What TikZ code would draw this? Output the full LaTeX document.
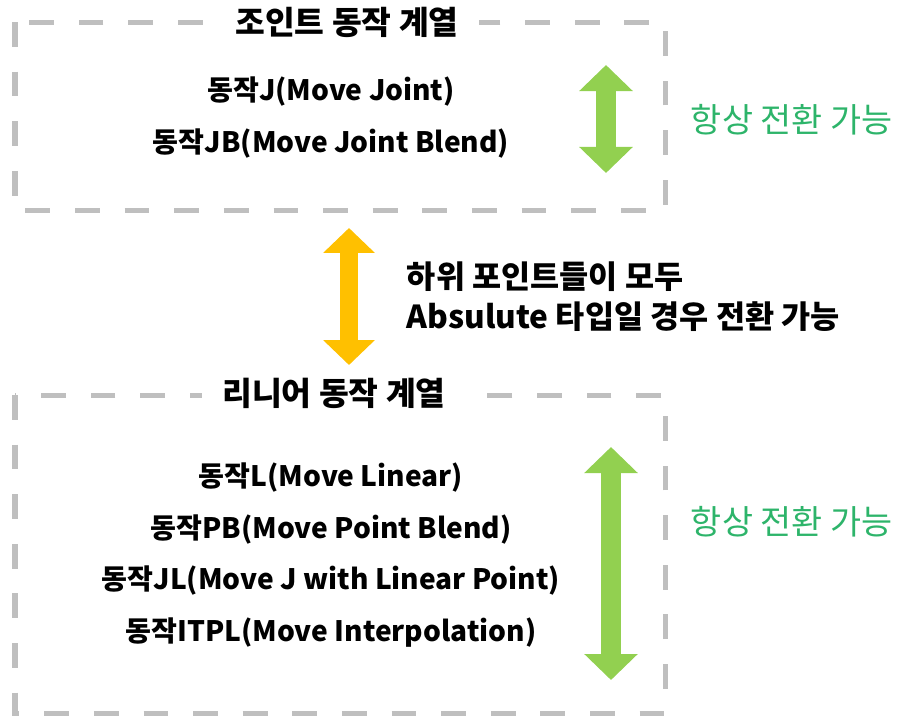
\documentclass[tikz,border=0pt]{standalone}
\usepackage{fontspec}
\setmainfont{Noto Sans CJK KR}
\usepackage{xcolor}
\definecolor{DashGray}{HTML}{BFBFBF}
\definecolor{ArrowGreen}{HTML}{92D050}
\definecolor{ArrowOrange}{HTML}{FFC000}
\definecolor{NoteGreen}{HTML}{2DB46A}
\usetikzlibrary{arrows.meta,positioning}

\begin{document}
\begin{tikzpicture}[
  x=0.025cm, y=-0.025cm,
  groupbox/.style={draw=DashGray,line width=0.125cm,dash pattern=on 0.62cm off 0.62cm},
  grouptitle/.style={fill=white,inner xsep=0.5cm,inner ysep=1pt,font=\fontsize{23}{27}\selectfont\bfseries},
  item/.style={font=\fontsize{20}{24}\selectfont\bfseries},
  note/.style={font=\fontsize{22.5}{28.5}\selectfont\bfseries,align=left,anchor=west},
  greennote/.style={font=\fontsize{24}{28}\selectfont,text=NoteGreen,anchor=west},
  swapgreen/.style={draw=ArrowGreen,line width=0.5cm,{Triangle[width=1.3cm,length=0.65cm]}-{Triangle[width=1.3cm,length=0.65cm]}},
  swaporange/.style={draw=ArrowOrange,line width=0.45cm,{Triangle[width=1.25cm,length=0.62cm]}-{Triangle[width=1.25cm,length=0.62cm]}}
]
  \useasboundingbox (0,0) rectangle (900,717);

  % joint group
  \draw[groupbox] (15,22) rectangle (665,210);
  \node[grouptitle] (jtitle) at (347,22) {조인트 동작 계열};
  \node[item] (movej) at (331,92) {동작J(Move Joint)};
  \node[item,below=0.3cm of movej] (movejb) {동작JB(Move Joint Blend)};
  \coordinate (jtop) at (606,65);
  \coordinate (jbot) at (606,173);
  \draw[swapgreen] (jtop) -- (jbot);
  \node[greennote] (jnote) at (686,120) {항상 전환 가능};

  % between groups
  \coordinate (mtop) at (349,228);
  \coordinate (mbot) at (349,365);
  \draw[swaporange] (mtop) -- (mbot);
  \node[note] (mnote) at (402,297) {하위 포인트들이 모두\\Absulute 타입일 경우 전환 가능};

  % linear group
  \draw[groupbox] (15,395) rectangle (665,713);
  \node[grouptitle] (ltitle) at (334,393) {리니어 동작 계열};
  \node[item] (movel) at (331,478) {동작L(Move Linear)};
  \node[item,below=0.3cm of movel] (movepb) {동작PB(Move Point Blend)};
  \node[item,below=0.3cm of movepb] (movejl) {동작JL(Move J with Linear Point)};
  \node[item,below=0.3cm of movejl] (moveitpl) {동작ITPL(Move Interpolation)};
  \coordinate (ltop) at (611,447);
  \coordinate (lbot) at (611,680);
  \draw[swapgreen] (ltop) -- (lbot);
  \node[greennote] (lnote) at (686,522) {항상 전환 가능};
\end{tikzpicture}
\end{document}
